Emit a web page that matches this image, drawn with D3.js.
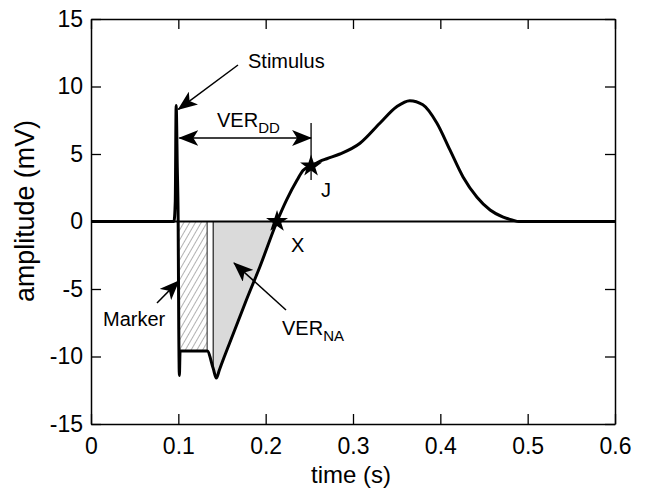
<!DOCTYPE html>
<html>
<head>
<meta charset="utf-8">
<script src="https://cdn.jsdelivr.net/npm/d3@7"></script>
<style>
  body { margin: 0; background: #fff; }
  svg { display: block; font-family: "Liberation Sans", Arial, sans-serif; }
</style>
</head>
<body>
<svg id="chart" width="651" height="491"></svg>
<script>
// signal (time in s, amplitude in mV)
let time = [0, 0.095, 0.0965, 0.0975, 0.0988, 0.0998, 0.1005, 0.1012, 0.102, 0.133, 0.14, 0.1435,
    0.147, 0.151, 0.163, 0.178, 0.1935, 0.213, 0.224, 0.236, 0.243, 0.252, 0.262, 0.270, 0.285,
    0.308, 0.331, 0.350, 0.365, 0.380, 0.396, 0.411, 0.426, 0.442, 0.457, 0.472, 0.483, 0.490, 0.6];
let amplitude = [0, 0, 1.5, 8.6, 4, 0, -8, -11.4, -9.6, -9.6, -10.9, -11.6,
    -11.0, -10.3, -8.3, -5.8, -3.33, 0, 1.6, 3.07, 3.8, 4.1, 4.45, 4.65, 5.0,
    5.8, 7.3, 8.5, 8.95, 8.65, 7.3, 5.3, 3.3, 1.8, 0.85, 0.33, 0.1, 0, 0];

let xTicks = [0, 0.1, 0.2, 0.3, 0.4, 0.5, 0.6];
let yTicks = [-15, -10, -5, 0, 5, 10, 15];

// marker window, VER_NA window and the two marked points
let markerSpan = [0.1005, 0.133];
let markerLevel = -9.6;
let naSpan = [0.14, 0.213];
let pointX = { t: 0.213, a: 0 };
let pointJ = { t: 0.252, a: 4.1 };

let svg = d3.select('#chart');
let box = { left: 91, right: 615, top: 19, bottom: 424 };

let x = d3.scaleLinear().domain([0, 0.6]).range([box.left, box.right]);
let y = d3.scaleLinear().domain([-15, 15]).range([box.bottom, box.top]);

let data = time.map(function(t, i) { return { t: t, a: amplitude[i] }; });

// defs: hatch pattern and arrow heads
let defs = svg.append('defs');
let hatch = defs.append('pattern')
    .attr('id', 'hatch')
    .attr('patternUnits', 'userSpaceOnUse')
    .attr('width', 5).attr('height', 5)
    .attr('patternTransform', 'rotate(30)');
hatch.append('line')
    .attr('x1', 0).attr('y1', 0).attr('x2', 0).attr('y2', 5)
    .style('stroke', '#555').style('stroke-width', 0.9);

defs.append('marker')
    .attr('id', 'head')
    .attr('viewBox', '0 0 20 16')
    .attr('refX', 19).attr('refY', 8)
    .attr('markerWidth', 20).attr('markerHeight', 16)
    .attr('markerUnits', 'userSpaceOnUse')
    .attr('orient', 'auto-start-reverse')
    .append('path')
    .attr('d', 'M0,0 L20,8 L0,16 L5,8 Z')
    .style('fill', '#000');

// shaded areas
let na = data.filter(function(d) { return d.t >= naSpan[0] && d.t <= naSpan[1]; });
let area = d3.area()
    .x(function(d) { return x(d.t); })
    .y0(y(0))
    .y1(function(d) { return y(d.a); })
    .curve(d3.curveMonotoneX);
svg.append('path')
    .datum(na)
    .attr('d', area)
    .style('fill', '#dadada');
svg.append('line')
    .attr('x1', x(naSpan[0])).attr('x2', x(naSpan[0]))
    .attr('y1', y(0)).attr('y2', y(na[0].a))
    .style('stroke', '#444').style('stroke-width', 1.5);

svg.append('rect')
    .attr('x', x(markerSpan[0]))
    .attr('y', y(0))
    .attr('width', x(markerSpan[1]) - x(markerSpan[0]))
    .attr('height', y(markerLevel) - y(0))
    .style('fill', 'url(#hatch)');
svg.append('line')
    .attr('x1', x(markerSpan[1])).attr('x2', x(markerSpan[1]))
    .attr('y1', y(0)).attr('y2', y(markerLevel))
    .style('stroke', '#444').style('stroke-width', 1.2);

// zero line
svg.append('line')
    .attr('x1', x(0)).attr('x2', x(0.6))
    .attr('y1', y(0)).attr('y2', y(0))
    .style('stroke', '#000').style('stroke-width', 1.8);

// signal
let line = d3.line()
    .x(function(d) { return x(d.t); })
    .y(function(d) { return y(d.a); })
    .curve(d3.curveMonotoneX);
svg.append('path')
    .datum(data)
    .attr('d', line)
    .style('fill', 'none')
    .style('stroke', '#000')
    .style('stroke-width', 3)
    .style('stroke-linejoin', 'round');

// axes, ticks inside on all four sides
let plain = function(d) { return String(d); };
let axes = [
    { axis: d3.axisBottom(x), tr: 'translate(0,' + box.bottom + ')', labels: true },
    { axis: d3.axisTop(x), tr: 'translate(0,' + box.top + ')', labels: false },
    { axis: d3.axisLeft(y), tr: 'translate(' + box.left + ',0)', labels: true },
    { axis: d3.axisRight(y), tr: 'translate(' + box.right + ',0)', labels: false }
];
axes.forEach(function(a, i) {
    let ax = a.axis.tickSizeInner(-10).tickSizeOuter(0)
        .tickValues(i < 2 ? xTicks : yTicks)
        .tickFormat(plain)
        .tickPadding(i < 2 ? 14 : 8);
    let g = svg.append('g').attr('transform', a.tr).call(ax);
    g.select('.domain').style('stroke', '#000').style('stroke-width', 1.5);
    g.selectAll('.tick line').style('stroke', '#000').style('stroke-width', 1.3);
    g.selectAll('.tick text')
        .style('font-size', '23px')
        .style('font-family', '"Liberation Sans", Arial, sans-serif')
        .style('fill', '#000')
        .style('display', a.labels ? null : 'none');
});

svg.append('text')
    .attr('x', 351)
    .attr('y', 483)
    .attr('text-anchor', 'middle')
    .style('font-size', '24px')
    .text('time (s)');
svg.append('text')
    .attr('transform', 'translate(34,211) rotate(-90)')
    .attr('text-anchor', 'middle')
    .attr('textLength', 182)
    .attr('lengthAdjust', 'spacingAndGlyphs')
    .style('font-size', '27px')
    .text('amplitude (mV)');

// annotations
function arrow(p, q, both) {
    svg.append('line')
        .attr('x1', p[0]).attr('y1', p[1])
        .attr('x2', q[0]).attr('y2', q[1])
        .attr('marker-end', 'url(#head)')
        .attr('marker-start', both ? 'url(#head)' : null)
        .style('stroke', '#000').style('stroke-width', 1.5);
}
function label(px, py, main, sub) {
    let t = svg.append('text')
        .attr('x', px).attr('y', py)
        .style('font-size', '20px')
        .text(main);
    if (sub) t.append('tspan').attr('dy', 6).style('font-size', '15px').text(sub);
}

label(248, 68, 'Stimulus');
arrow([238, 65], [x(0.1), y(8.3)]);

let ddY = 138;
arrow([x(0.1) + 1, ddY], [x(pointJ.t), ddY], true);
svg.append('line')
    .attr('x1', x(pointJ.t)).attr('x2', x(pointJ.t))
    .attr('y1', 123).attr('y2', 180)
    .style('stroke', '#000').style('stroke-width', 1.3);
label(217, 127, 'VER', 'DD');

label(103, 326, 'Marker');
arrow([157, 303], [x(markerSpan[0]), y(-4.4)]);

label(282, 335, 'VER', 'NA');
arrow([286, 310], [234, 263]);

label(321, 197, 'J');
label(291, 252, 'X');

let star = d3.symbol().type(d3.symbolStar).size(150);
[pointX, pointJ].forEach(function(p) {
    svg.append('path')
        .attr('d', star)
        .attr('transform', 'translate(' + x(p.t) + ',' + y(p.a) + ')')
        .style('fill', '#000');
});
</script>
</body>
</html>
